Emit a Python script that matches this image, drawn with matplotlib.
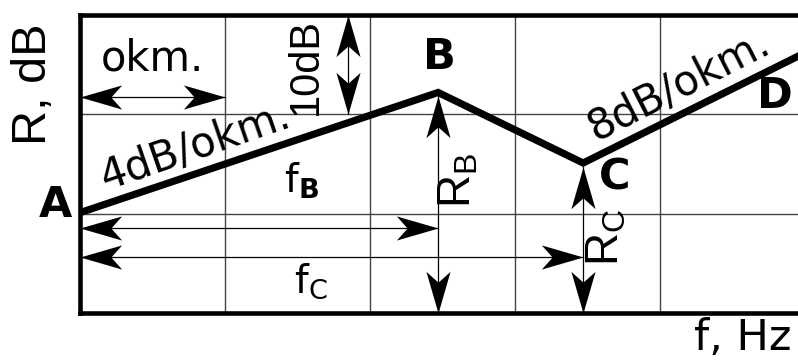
import numpy as np
import matplotlib
matplotlib.use("Agg")
import matplotlib.pyplot as plt
from matplotlib.path import Path
from matplotlib.markers import MarkerStyle
from matplotlib.transforms import Affine2D

plt.rcParams['font.family'] = ['DejaVu Sans']
plt.rcParams['mathtext.fontset'] = 'dejavusans'

# corner points of the R(f) curve, f in octaves, R in dB
f_oct = [0.0, 2.47, 3.47, 5.0]
R_db = [10.1, 22.2, 15.1, 26.2]
point_names = ['A', 'B', 'C', 'D']
slope_labels = ['4dB/okm.', '8dB/okm.']

x_grid = [0, 1, 2, 3, 4, 5]
y_grid = [0, 10, 20, 30]

NARROW = ['Liberation Sans Narrow', 'Liberation Sans']

# stealth style arrow head, tip at origin, pointing +x
head = Path([(0, 0), (-1, 0.29), (-0.74, 0), (-1, -0.29), (0, 0)],
            [Path.MOVETO, Path.LINETO, Path.LINETO, Path.LINETO, Path.CLOSEPOLY])


def head_at(ax, x, y, ang):
    m = MarkerStyle(head, transform=Affine2D().rotate_deg(ang))
    ax.plot([x], [y], marker=m, ms=60, mfc='k', mec='k', mew=0,
            ls='none', clip_on=False, zorder=4)


def dim_arrow(ax, x0, y0, x1, y1):
    ax.plot([x0, x1], [y0, y1], color='k', lw=0.9, clip_on=False, zorder=3)
    ang = np.degrees(np.arctan2(y1 - y0, x1 - x0))
    head_at(ax, x1, y1, ang)
    head_at(ax, x0, y0, ang + 180)


fig = plt.figure(figsize=(7.98, 3.62), dpi=100)
ax = fig.add_axes([80 / 798, 49 / 362, 725 / 798, 298 / 362])
ax.set_xlim(0, 5)
ax.set_ylim(0, 30)
ax.set_xticks(x_grid)
ax.set_yticks(y_grid)
ax.tick_params(length=0, labelbottom=False, labelleft=False)
ax.grid(True, color='#444444', lw=1.0)
for s in ['left', 'top', 'bottom']:
    ax.spines[s].set_linewidth(3.3)
ax.spines['right'].set_visible(False)

ax.plot(f_oct, R_db, color='k', lw=5.2, solid_joinstyle='miter', zorder=5)

# dimension arrows
dim_arrow(ax, 0, 21.75, 1.0, 21.75)              # one octave
dim_arrow(ax, 1.85, 20, 1.85, 30)                # 10 dB
dim_arrow(ax, 0, 8.6, f_oct[1], 8.6)             # f_B
dim_arrow(ax, 0, 5.65, f_oct[2], 5.65)           # f_C
dim_arrow(ax, f_oct[1], 0, f_oct[1], R_db[1] - 0.4)
dim_arrow(ax, f_oct[2], 0, f_oct[2], R_db[2] - 0.4)

# point names
bold = dict(fontsize=31, fontweight='bold', ha='center', va='center', zorder=6)
ax.text(-0.17, 10.9, point_names[0], clip_on=False, **bold)
ax.text(2.48, 25.8, point_names[1], **bold)
ax.text(3.69, 13.6, point_names[2], **bold)
ax.text(4.79, 21.8, point_names[3], **bold)

# slope labels
ax.text(0.80, 16.8, slope_labels[0], fontsize=30, rotation=19,
        rotation_mode='anchor', ha='center', va='center', zorder=6)
ax.text(4.13, 22.9, slope_labels[1], fontsize=30, rotation=27,
        rotation_mode='anchor', ha='center', va='center', zorder=6)

ax.text(0.50, 25.6, 'okm.', fontsize=30, ha='center', va='center')
ax.text(1.56, 24.8, '10dB', fontsize=30, rotation=90, family=NARROW,
        ha='center', va='center')
ax.text(1.53, 13.3, r'f$_\mathbf{B}$', fontsize=28, ha='center', va='center')
ax.text(1.59, 3.2, r'f$_\mathrm{C}$', fontsize=28, ha='center', va='center')
ax.text(2.61, 13.4, r'$\mathregular{R_B}$', fontsize=33, rotation=90,
        family=NARROW, ha='center', va='center', zorder=6)
ax.text(3.63, 7.6, r'$\mathregular{R_C}$', fontsize=33, rotation=90,
        family=NARROW, ha='center', va='center', zorder=6)

ax.text(4.91, -2.5, 'f, Hz', fontsize=31, ha='right', va='center', clip_on=False)
ax.text(-0.32, 23.0, 'R, dB', fontsize=35, rotation=90, family=NARROW,
        ha='center', va='center', clip_on=False)

fig.savefig('out.png', dpi=100)
